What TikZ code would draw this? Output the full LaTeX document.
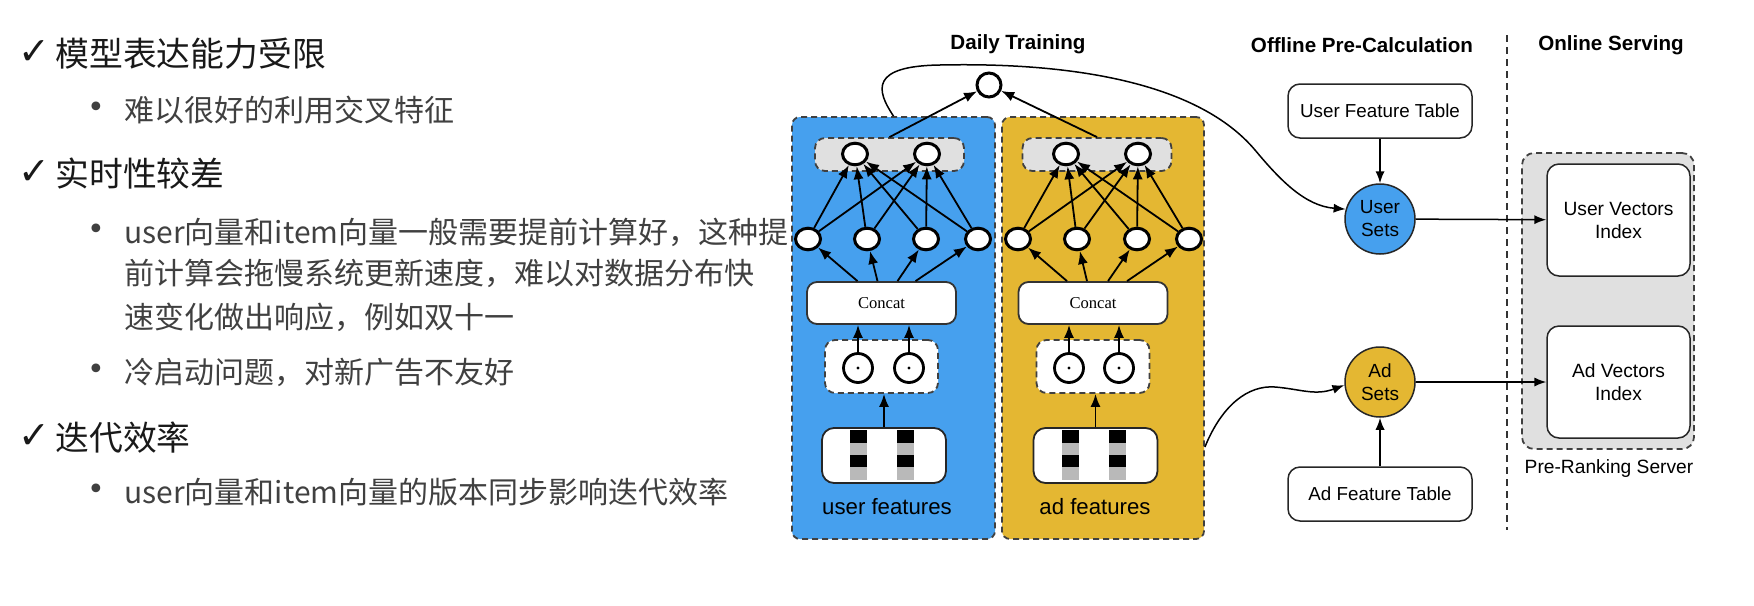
\documentclass[tikz,border=0pt]{standalone}
\usepackage{fontspec}
\setmainfont{Liberation Sans}
\newfontfamily\cjk{Noto Sans CJK SC}
\newfontfamily\dvs{DejaVu Sans}
\newfontfamily\serifx{Liberation Serif}
\usetikzlibrary{arrows.meta,shapes.geometric,calc}
\definecolor{ublue}{RGB}{70,160,238}
\definecolor{ayel}{RGB}{228,183,50}
\definecolor{lgray}{RGB}{224,224,224}
\definecolor{bargray}{RGB}{185,185,185}
\definecolor{txtg}{RGB}{64,64,64}
\begin{document}
\begin{tikzpicture}[x=0.5pt,y=-0.5pt,
  every node/.style={inner sep=0pt},
  arr/.style={-{Latex[length=6.5pt,width=5pt]}, line width=0.9pt},
  arrt/.style={-{Latex[length=6pt,width=4.6pt]}, line width=0.75pt},
  panel/.style={draw=black!75, dash pattern=on 3pt off 2pt, line width=0.9pt, rounded corners=4pt, minimum width=101.5pt, minimum height=211pt},
  grp/.style={draw=black!75, dash pattern=on 3pt off 2pt, line width=0.9pt, rounded corners=5pt, fill=lgray, minimum width=74.5pt, minimum height=16.5pt},
  neuron/.style={ellipse, draw, fill=white, line width=1.5pt, minimum width=12.5pt, minimum height=10.8pt},
  dotc/.style={circle, draw, fill=white, line width=1.4pt, minimum size=14.5pt},
  dotgrp/.style={draw=black!75, fill=white, dash pattern=on 3pt off 2pt, line width=0.9pt, rounded corners=5pt, minimum width=56.5pt, minimum height=26.5pt},
  concat/.style={draw=black!80, fill=white, line width=0.9pt, rounded corners=5pt, minimum width=74.5pt, minimum height=21pt, font=\serifx\fontsize{8.3pt}{10pt}\selectfont},
  featbox/.style={draw=black!85, fill=white, line width=0.9pt, rounded corners=6pt, minimum width=62pt, minimum height=27.5pt},
  flabel/.style={font=\fontsize{11.1pt}{13pt}\selectfont},
  tbl/.style={draw=black!85, fill=white, line width=0.75pt, rounded corners=6pt, minimum width=92pt, minimum height=27pt, font=\fontsize{9.4pt}{11pt}\selectfont},
  sets/.style={circle, draw=black!85, line width=0.75pt, minimum size=35pt, align=center, font=\fontsize{9.5pt}{11.5pt}\selectfont},
  vidx/.style={draw=black!85, fill=white, line width=0.75pt, rounded corners=6pt, minimum width=71.5pt, minimum height=56pt, align=center, font=\fontsize{9.6pt}{11.5pt}\selectfont},
  title/.style={font=\bfseries\fontsize{10.3pt}{12pt}\selectfont},
  hd/.style={anchor=base west, font=\cjk\fontsize{16.9pt}{20pt}\selectfont, text=black!90},
  bd/.style={anchor=base west, font=\cjk\fontsize{15pt}{18pt}\selectfont, text=txtg},
  ck/.style={font=\dvs\fontsize{19pt}{22pt}\selectfont, text=black!90},
  bl/.style={font=\dvs\fontsize{15pt}{18pt}\selectfont, text=txtg},
]
\useasboundingbox (0,0) rectangle (1754,605);

% ---------- left text ----------
\node[ck] (c1) at (34,53) {✓};
\node[hd] (h1) at (55,66) {模型表达能力受限};
\node[bl] (b1) at (96,110) {•};
\node[bd] (t1) at (124,121) {难以很好的利用交叉特征};
\node[ck] (c2) at (34,173) {✓};
\node[hd] (h2) at (55,186) {实时性较差};
\node[bl] (b2) at (96,232) {•};
\node[bd] (t2a) at (124,243) {user向量和item向量一般需要提前计算好，这种提};
\node[bd] (t2b) at (124,284) {前计算会拖慢系统更新速度，难以对数据分布快};
\node[bd] (t2c) at (124,328) {速变化做出响应，例如双十一};
\node[bl] (b3) at (96,372) {•};
\node[bd] (t3) at (124,383) {冷启动问题，对新广告不友好};
\node[ck] (c3) at (34,437) {✓};
\node[hd] (h3) at (55,450) {迭代效率};
\node[bl] (b4) at (96,492) {•};
\node[bd] (t4) at (124,503) {user向量和item向量的版本同步影响迭代效率};

% ---------- titles ----------
\node[title] (tt1) at (1018,44) {Daily Training};
\node[title] (tt2) at (1362,45) {Offline Pre-Calculation};
\node[title] (tt3) at (1611,45) {Online Serving};

% ---------- panels ----------
\node[panel, fill=ublue] (up) at (893.5,328) {};
\node[panel, fill=ayel, minimum width=101pt] (ap) at (1103,328) {};
\node[grp] (ug) at (889.5,154.5) {};
\node[grp] (ag) at (1097,154.5) {};

\node[circle, draw, fill=white, line width=1.5pt, minimum size=12pt] (out) at (989,85) {};

\node[neuron] (uo1) at (855,154) {};
\node[neuron] (uo2) at (927,154) {};
\node[neuron] (ao1) at (1066,154) {};
\node[neuron] (ao2) at (1138,154) {};

\node[neuron] (uh1) at (808,239) {};
\node[neuron] (uh2) at (867,239) {};
\node[neuron] (uh3) at (926,239) {};
\node[neuron] (uh4) at (978,239) {};
\node[neuron] (ah1) at (1018,239) {};
\node[neuron] (ah2) at (1077,239) {};
\node[neuron] (ah3) at (1137,239) {};
\node[neuron] (ah4) at (1189,239) {};

\node[concat] (uc) at (881.5,303) {Concat};
\node[concat] (ac) at (1093,303) {Concat};

\node[dotgrp] (ud) at (881.5,366.5) {};
\node[dotgrp] (ad) at (1093,366.5) {};
\node[dotc] (ud1) at (858,368) {};
\node[dotc] (ud2) at (909,368) {};
\node[dotc] (ad1) at (1069,368) {};
\node[dotc] (ad2) at (1119,368) {};
\foreach \n in {ud1,ud2,ad1,ad2} \fill (\n.center) circle (1.6);

\node[featbox] (uf) at (884,455.5) {};
\node[featbox] (af) at (1095.5,455.5) {};
\foreach \cx in {884,1095.5} {
  \foreach \dx in {-34,13} {
    \fill[bargray] ({\cx+\dx},430) rectangle ++(17,50);
    \fill[black] ({\cx+\dx},430) rectangle ++(17,13);
    \fill[black] ({\cx+\dx},455) rectangle ++(17,12);
  }
}
\node[flabel] (ul) at (887,507) {user features};
\node[flabel] (al) at (1095,507) {ad features};

% ---------- tower arrows ----------
\foreach \i in {1,...,4} {
  \foreach \j in {1,2} {
    \draw[arr] (uh\i) -- (uo\j);
    \draw[arr] (ah\i) -- (ao\j);
  }
}
\draw[arr] ([xshift=-12pt]uc.north) -- (uh1);
\draw[arr] ([xshift=-2pt]uc.north) -- (uh2);
\draw[arr] ([xshift=8pt]uc.north) -- (uh3);
\draw[arr] ([xshift=17pt]uc.north) -- (uh4);
\draw[arr] ([xshift=-13pt]ac.north) -- (ah1);
\draw[arr] ([xshift=-3pt]ac.north) -- (ah2);
\draw[arr] ([xshift=7.5pt]ac.north) -- (ah3);
\draw[arr] ([xshift=17pt]ac.north) -- (ah4);
\foreach \n/\c in {ud1/uc,ud2/uc,ad1/ac,ad2/ac} \draw[arr] (\n) -- (\n |- \c.south);
\draw[arr] (uf.north) -- (uf.north |- ud.south);
\draw[arr] (af.north) -- (af.north |- ad.south);
\draw[arr] (ug.north) -- (out);
\draw[arr] (ag.north) -- (out);

% ---------- right side ----------
\coordinate (dtop) at (1507,35);
\coordinate (dbot) at (1507,530);
\draw[black!80, line width=0.75pt, dash pattern=on 3.5pt off 2.5pt] (dtop) -- (dbot);

\node[draw=black!75, fill=lgray, dash pattern=on 3pt off 2pt, line width=0.9pt, rounded corners=6pt, minimum width=86pt, minimum height=148pt] (srv) at (1608,301) {};
\node[vidx] (uvi) at (1618.5,220) {User Vectors\\Index};
\node[vidx] (avi) at (1618.5,382) {Ad Vectors\\Index};
\node[font=\fontsize{9.6pt}{11pt}\selectfont] (srvl) at (1609,469) {Pre-Ranking Server};

\node[tbl] (uft) at (1380,111) {User Feature Table};
\node[tbl] (aft) at (1380,494) {Ad Feature Table};
\node[sets, fill=ublue] (us) at (1380,219) {User\\Sets};
\node[sets, fill=ayel] (as) at (1380,382) {Ad\\Sets};

\draw[arrt] (uft) -- (us);
\draw[arrt] (aft) -- (as);
\draw[arrt] (us) -- (uvi);
\draw[arrt] (as) -- (avi);

\draw[arrt] (up.north) .. controls (876,90) and (870,66) .. (940,65)
  .. controls (1080,62) and (1200,85) .. (1255,150)
  .. controls (1280,180) and (1305,206) .. (us.164);
\draw[arrt] ([yshift=-59.5pt]ap.east) .. controls (1222,405) and (1248,385) .. (1275,387)
  .. controls (1300,389) and (1315,396) .. (as.185);
\end{tikzpicture}
\end{document}
